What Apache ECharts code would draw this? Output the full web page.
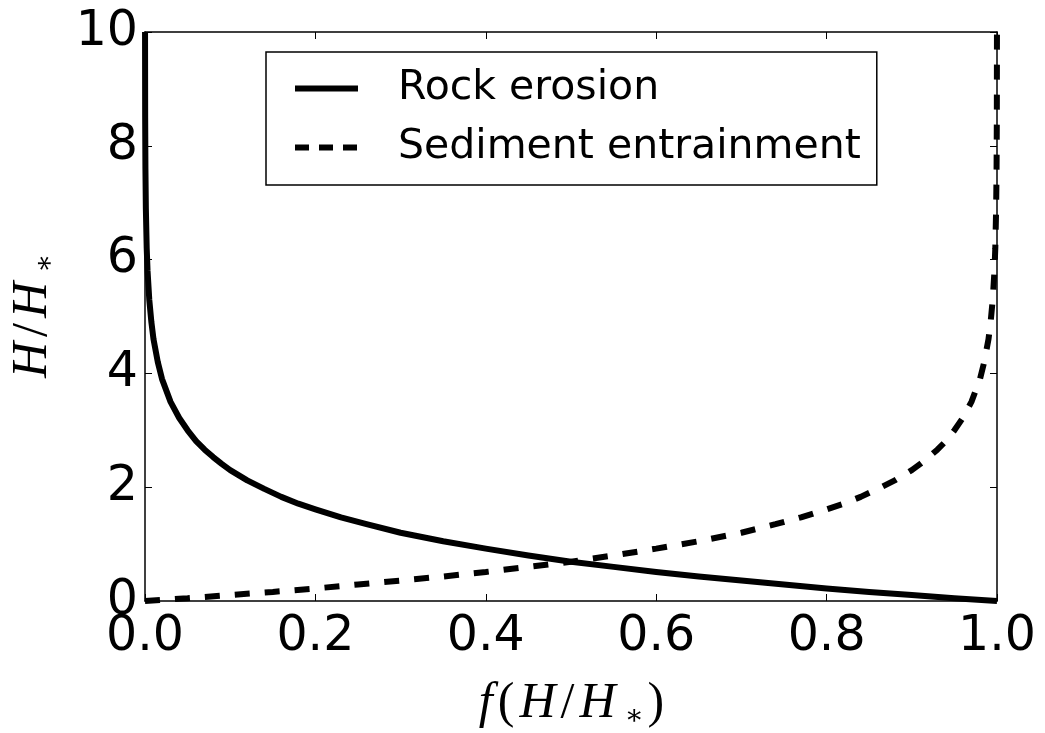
<!DOCTYPE html>
<html>
<head>
<meta charset="utf-8">
<script src="https://cdn.jsdelivr.net/npm/echarts@6/dist/echarts.min.js"></script>
<style>
html,body{margin:0;padding:0;background:#fff;}
#chart{width:1045px;height:733px;}
</style>
</head>
<body>
<div id="chart"></div>
<script>
// Tick values
var xTicks = [0.0, 0.2, 0.4, 0.6, 0.8, 1.0];
var yTicks = [0, 2, 4, 6, 8, 10];

// Series names
var seriesNames = ['Rock erosion', 'Sediment entrainment'];

// Rock erosion curve: f(H/H*) values and H/H* values
var rockF = [0.00005, 0.0002, 0.0005, 0.001, 0.002, 0.003, 0.005, 0.0075, 0.01, 0.015, 0.02, 0.03, 0.04, 0.05, 0.06, 0.07, 0.08, 0.09, 0.1, 0.12, 0.14, 0.16, 0.18, 0.2, 0.23, 0.26, 0.3, 0.35, 0.4, 0.45, 0.5, 0.55, 0.6, 0.65, 0.7, 0.75, 0.8, 0.85, 0.9, 0.95, 1.0];
var rockH = [10, 8.5, 7.6, 6.9, 6.2, 5.8, 5.3, 4.9, 4.6, 4.2, 3.9, 3.5, 3.22, 3.0, 2.81, 2.66, 2.53, 2.41, 2.3, 2.12, 1.97, 1.83, 1.71, 1.61, 1.47, 1.35, 1.2, 1.05, 0.92, 0.8, 0.69, 0.6, 0.51, 0.43, 0.36, 0.29, 0.22, 0.16, 0.105, 0.05, 0.0];

// Sediment entrainment curve
var sedF = [0, 0.05, 0.1, 0.15, 0.2, 0.25, 0.3, 0.35, 0.4, 0.45, 0.5, 0.55, 0.6, 0.65, 0.7, 0.74, 0.77, 0.8, 0.82, 0.84, 0.86, 0.88, 0.9, 0.91, 0.92, 0.93, 0.94, 0.95, 0.96, 0.97, 0.98, 0.985, 0.99, 0.9925, 0.995, 0.997, 0.998, 0.999, 0.9995, 0.9998, 0.99995];
var sedH = [0, 0.05, 0.105, 0.16, 0.22, 0.29, 0.36, 0.43, 0.51, 0.6, 0.69, 0.8, 0.92, 1.05, 1.2, 1.35, 1.47, 1.61, 1.71, 1.83, 1.97, 2.12, 2.3, 2.41, 2.53, 2.66, 2.81, 3.0, 3.22, 3.5, 3.9, 4.2, 4.6, 4.9, 5.3, 5.8, 6.2, 6.9, 7.6, 8.5, 10];

function pairs(xs, ys) { return xs.map(function (x, i) { return [x, ys[i]]; }); }

var chart = echarts.init(document.getElementById('chart'), null, {renderer: 'canvas'});

var tickFont = 'DejaVu Sans';
var mathRich = {
  i: {fontFamily: 'Liberation Serif', fontStyle: 'italic', fontSize: 50, color: '#000', lineHeight: 56, padding: [0, 3, 0, 3]},
  r: {fontFamily: 'Liberation Serif', fontSize: 50, color: '#000', lineHeight: 56, padding: [0, 2, 0, 2]},
  s: {fontFamily: 'DejaVu Serif', fontSize: 28, color: '#000', lineHeight: 30, verticalAlign: 'middle', padding: [26, 2, 0, 6]}
};

var xMin = xTicks[0], xMax = xTicks[xTicks.length - 1], xInt = +(xTicks[1] - xTicks[0]).toFixed(6);
var yMin = yTicks[0], yMax = yTicks[yTicks.length - 1], yInt = yTicks[1] - yTicks[0];

function axisCommon(extra) {
  var base = {
    type: 'value',
    splitLine: {show: false},
    axisLine: {show: true, onZero: false, lineStyle: {color: '#000', width: 1.5}},
    axisTick: {show: true, inside: true, length: 7, lineStyle: {color: '#000', width: 1}}
  };
  for (var k in extra) base[k] = extra[k];
  return base;
}

var option = {
  backgroundColor: '#fff',
  animation: false,
  grid: {left: 145, right: 48, top: 32, bottom: 132, containLabel: false, outerBoundsMode: 'none'},
  legend: {
    orient: 'vertical',
    left: 266,
    top: 52,
    padding: [16, 16, 17, 26],
    itemWidth: 63,
    itemHeight: 20,
    itemGap: 18,
    borderColor: '#000',
    borderWidth: 1.5,
    borderRadius: 0,
    backgroundColor: '#fff',
    itemStyle: {color: 'transparent', borderWidth: 0, opacity: 0},
    textStyle: {fontFamily: tickFont, fontSize: 41, color: '#000', lineHeight: 40, padding: [0, 0, 0, 35]},
    data: [
      {name: seriesNames[0], lineStyle: {color: '#000', width: 6, type: 'solid'}},
      {name: seriesNames[1], lineStyle: {color: '#000', width: 6, type: [14, 10], cap: 'butt'}}
    ]
  },
  xAxis: [
    axisCommon({
      position: 'bottom', min: xMin, max: xMax, interval: xInt,
      axisLabel: {show: true, margin: 12, fontFamily: tickFont, fontSize: 49, color: '#000',
        formatter: function (v) { return v.toFixed(1); }},
      name: '{i|f}{r|(}{i|H}{r|/}{i|H}{s|∗}{r|)}',
      nameLocation: 'middle',
      nameGap: 75,
      nameTextStyle: {rich: mathRich}
    }),
    axisCommon({
      position: 'top', min: xMin, max: xMax, interval: xInt,
      axisLabel: {show: false}
    })
  ],
  yAxis: [
    axisCommon({
      position: 'left', min: yMin, max: yMax, interval: yInt,
      axisLabel: {show: true, margin: 7, fontFamily: tickFont, fontSize: 49, color: '#000'},
      name: '{i|H}{r|/}{i|H}{s|∗}',
      nameLocation: 'middle',
      nameRotate: 90,
      nameGap: 84,
      nameTextStyle: {rich: mathRich}
    }),
    axisCommon({
      position: 'right', min: yMin, max: yMax, interval: yInt,
      axisLabel: {show: false}
    })
  ],
  series: [
    {
      name: seriesNames[0],
      type: 'line',
      xAxisIndex: 0, yAxisIndex: 0,
      data: pairs(rockF, rockH),
      symbol: 'none',
      showSymbol: false,
      smooth: false,
      clip: false,
      lineStyle: {color: '#000', width: 6, type: 'solid', join: 'round'},
      itemStyle: {color: '#000'},
      z: 3
    },
    {
      name: seriesNames[1],
      type: 'line',
      xAxisIndex: 0, yAxisIndex: 0,
      data: pairs(sedF, sedH),
      symbol: 'none',
      showSymbol: false,
      smooth: false,
      clip: false,
      lineStyle: {color: '#000', width: 6, type: [15, 15], cap: 'butt'},
      itemStyle: {color: '#000'},
      z: 3
    }
  ]
};
chart.setOption(option);
</script>
</body>
</html>
